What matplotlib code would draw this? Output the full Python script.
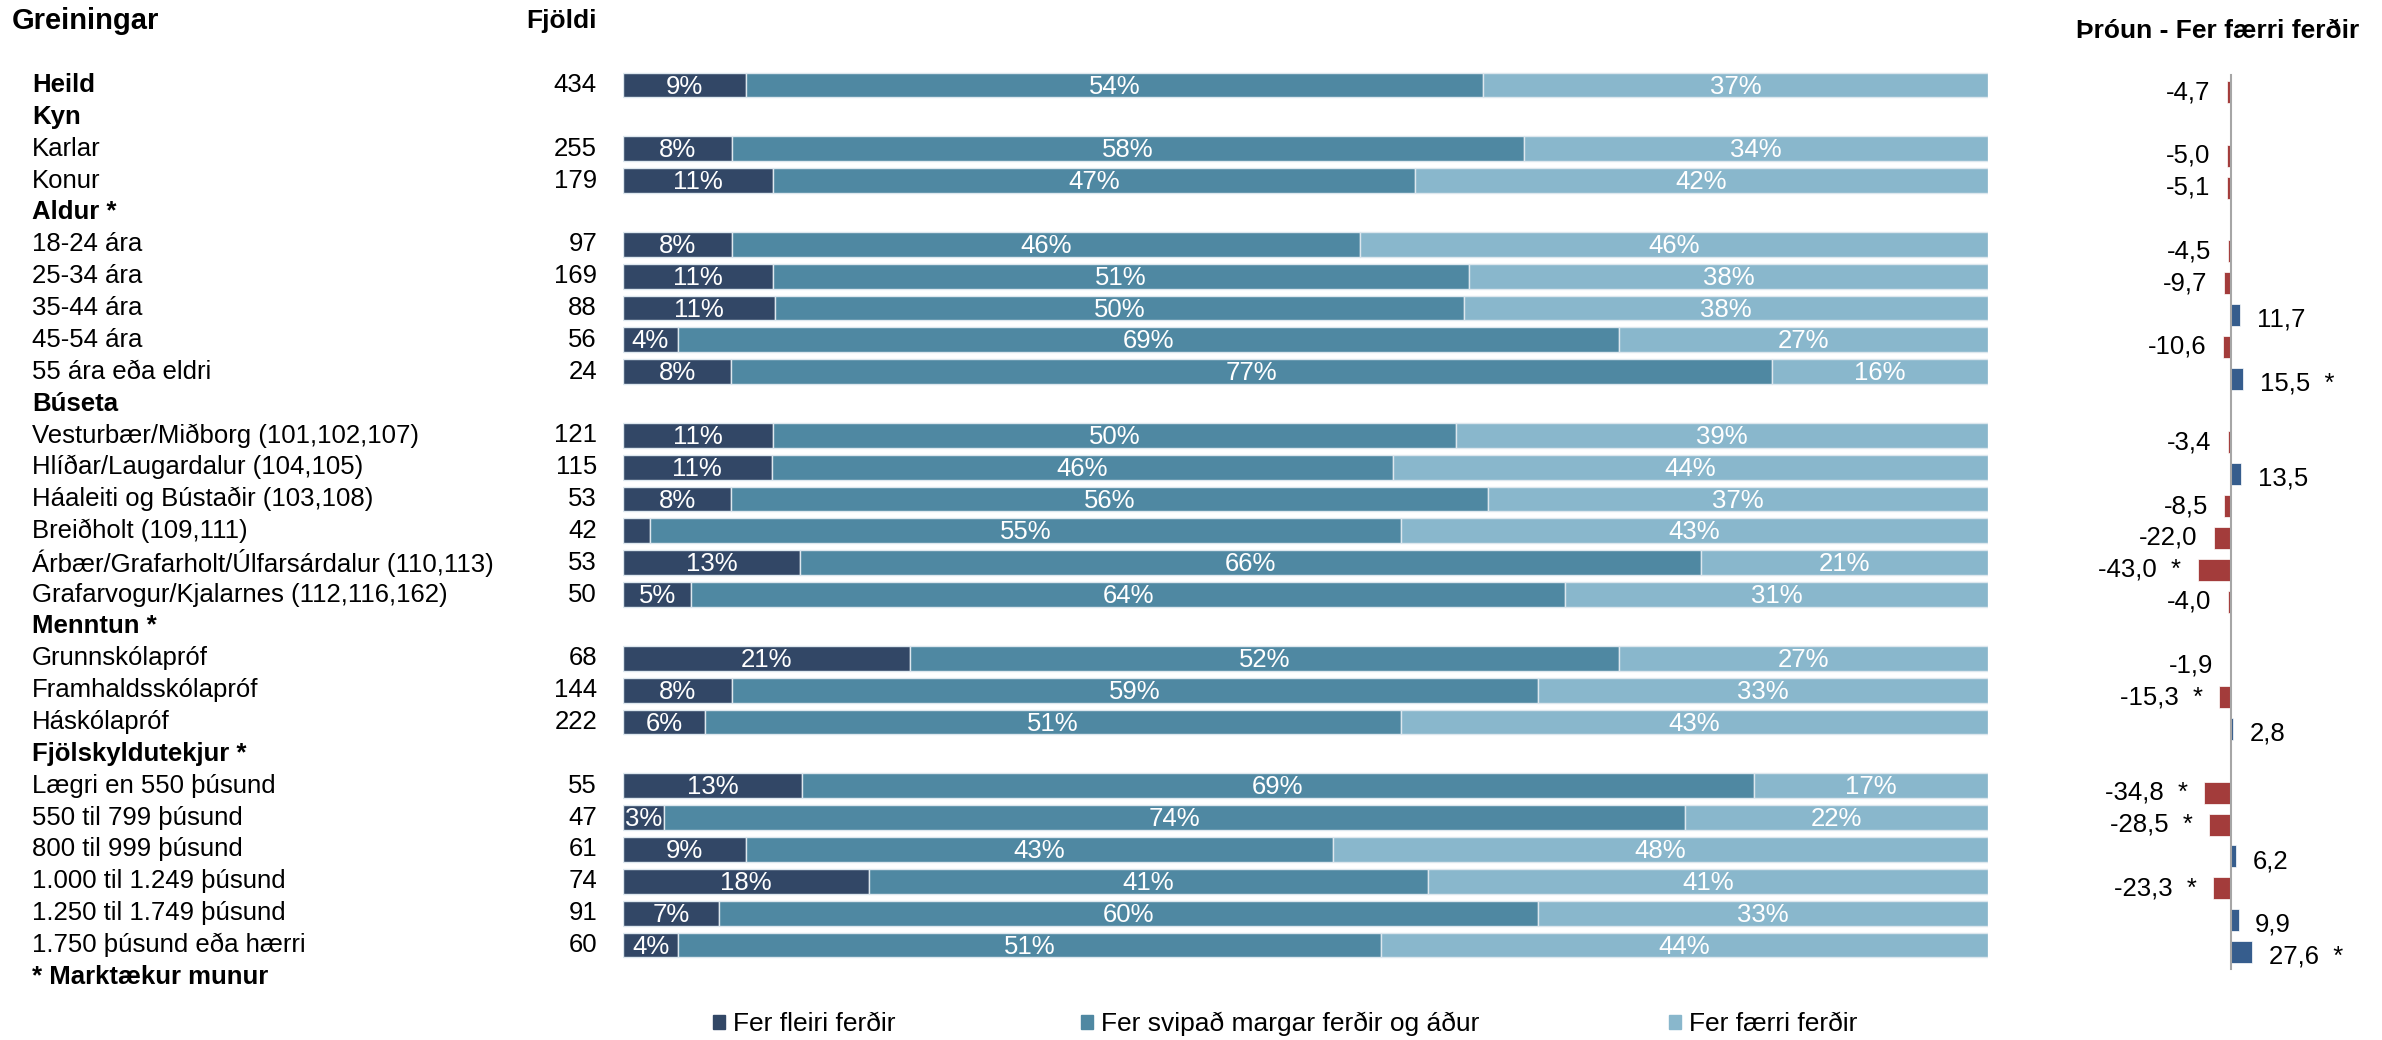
import numpy as np
import matplotlib
matplotlib.use('Agg')
import matplotlib.pyplot as plt
from matplotlib.patches import Patch
from matplotlib.transforms import blended_transform_factory

plt.rcParams['font.family'] = ['Liberation Sans', 'DejaVu Sans']

# gögn
labels = ['Heild', 'Kyn', 'Karlar', 'Konur', 'Aldur *', '18-24 ára', '25-34 ára', '35-44 ára',
          '45-54 ára', '55 ára eða eldri', 'Búseta', 'Vesturbær/Miðborg (101,102,107)',
          'Hlíðar/Laugardalur (104,105)', 'Háaleiti og Bústaðir (103,108)', 'Breiðholt (109,111)',
          'Árbær/Grafarholt/Úlfarsárdalur (110,113)', 'Grafarvogur/Kjalarnes (112,116,162)',
          'Menntun *', 'Grunnskólapróf', 'Framhaldsskólapróf', 'Háskólapróf', 'Fjölskyldutekjur *',
          'Lægri en 550 þúsund', '550 til 799 þúsund', '800 til 999 þúsund', '1.000 til 1.249 þúsund',
          '1.250 til 1.749 þúsund', '1.750 þúsund eða hærri', '* Marktækur munur']
bold_rows = ['Heild', 'Kyn', 'Aldur *', 'Búseta', 'Menntun *', 'Fjölskyldutekjur *', '* Marktækur munur']

nan = np.nan
fjoldi = [434, nan, 255, 179, nan, 97, 169, 88, 56, 24, nan, 121, 115, 53, 42, 53, 50,
          nan, 68, 144, 222, nan, 55, 47, 61, 74, 91, 60]
fleiri = [9, nan, 8, 11, nan, 8, 11, 11, 4, 8, nan, 11, 11, 8, 2, 13, 5,
          nan, 21, 8, 6, nan, 13, 3, 9, 18, 7, 4]
svipad = [54, nan, 58, 47, nan, 46, 51, 50, 69, 77, nan, 50, 46, 56, 55, 66, 64,
          nan, 52, 59, 51, nan, 69, 74, 43, 41, 60, 51]
faerri = [37, nan, 34, 42, nan, 46, 38, 38, 27, 16, nan, 39, 44, 37, 43, 21, 31,
          nan, 27, 33, 43, nan, 17, 22, 48, 41, 33, 44]
throun = [-4.7, nan, -5.0, -5.1, nan, -4.5, -9.7, 11.7, -10.6, 15.5, nan, -3.4, 13.5, -8.5,
          -22.0, -43.0, -4.0, nan, -1.9, -15.3, 2.8, nan, -34.8, -28.5, 6.2, -23.3, 9.9, 27.6]
marktaekt = [False, False, False, False, False, False, False, False, False, True, False, False,
             False, False, False, True, False, False, False, True, False, False, True, True,
             False, True, False, True]

series_names = ['Fer fleiri ferðir', 'Fer svipað margar ferðir og áður', 'Fer færri ferðir']
colors = ['#324766', '#4f88a2', '#89b7cc']

W, H = 2382, 1040
sp = 31.85  # bil milli raða í pixlum
fs = 18.5
fig = plt.figure(figsize=(W / 100, H / 100), dpi=100)

def fx(p):
    return p / W

def fy(p):
    return 1 - p / H

# súlurit til vinstri
ax = fig.add_axes([fx(623), fy(85 + 28.5 * sp), fx(1988) - fx(623), 30 * sp / H])
ax.set_ylim(28.5, -1.5)
ax.set_xlim(0, 100)
ax.axis('off')

y = np.arange(len(fleiri))
data = np.array([fleiri, svipad, faerri], dtype=float)
tot = np.nansum(data, axis=0)
tot[tot == 0] = 1
share = data / tot * 100
left = np.zeros(len(y))
for k in range(3):
    ok = ~np.isnan(data[k])
    ax.barh(y[ok], share[k][ok], left=left[ok], height=0.78, color=colors[k],
            edgecolor='#dde7ee', linewidth=1)
    for i in y[ok]:
        if data[k][i] >= 3:
            ax.text(left[i] + share[k][i] / 2, i + 0.05, f'{int(data[k][i])}%', ha='center',
                    va='center', color='white', fontsize=fs)
    left[ok] += share[k][ok]

# textar til vinstri
trans = blended_transform_factory(fig.transFigure, ax.transData)
for i, lab in enumerate(labels):
    ax.text(fx(32), i, lab, transform=trans, ha='left', va='center', fontsize=fs,
            fontweight='bold' if lab in bold_rows else 'normal')
for i, n in enumerate(fjoldi):
    if not np.isnan(n):
        ax.text(fx(597), i, str(int(n)), transform=trans, ha='right', va='center', fontsize=fs)

fig.text(fx(12), fy(21), 'Greiningar', ha='left', va='center', fontsize=21, fontweight='bold')
fig.text(fx(597), fy(21), 'Fjöldi', ha='right', va='center', fontsize=19, fontweight='bold')

# þróun til hægri
ax2 = fig.add_axes([fx(2150), fy(92 + 28.5 * sp), 162 / W, 30 * sp / H])
ax2.set_ylim(28.5, -1.5)
ax2.set_xlim(-105.9, 105.9)
ax2.axis('off')
tr = np.array(throun)
ok = ~np.isnan(tr)
ax2.barh(y[ok], tr[ok], height=0.69, color=np.where(tr[ok] < 0, '#a33c3b', '#365d8d'),
         edgecolor='white', linewidth=0.5, zorder=2)
ax2.plot([0, 0], [-0.53, 27.55], color='#a6a6a6', lw=1.5, zorder=3)
for i in y[ok]:
    v = tr[i]
    txt = f'{v:.1f}'.replace('.', ',') + ('  *' if marktaekt[i] else '')
    if v < 0:
        ax2.annotate(txt, (v, i), xytext=(-12, 0), textcoords='offset points',
                     ha='right', va='center', fontsize=fs)
    else:
        ax2.annotate(txt, (v, i + 0.15), xytext=(12, 0), textcoords='offset points',
                     ha='left', va='center', fontsize=fs)

fig.text(fx(2218), fy(31), 'Þróun - Fer færri ferðir', ha='center', va='center',
         fontsize=19, fontweight='bold')

# skýringar
for name, c, xp in zip(series_names, colors, [713, 1081, 1669]):
    fig.legend(handles=[Patch(color=c)], labels=[name], loc='center left',
               bbox_to_anchor=(fx(xp), fy(1024)), frameon=False, fontsize=19,
               handlelength=0.45, handleheight=0.45, handletextpad=0.3,
               borderpad=0, borderaxespad=0)

fig.savefig('out.png', dpi=100)
